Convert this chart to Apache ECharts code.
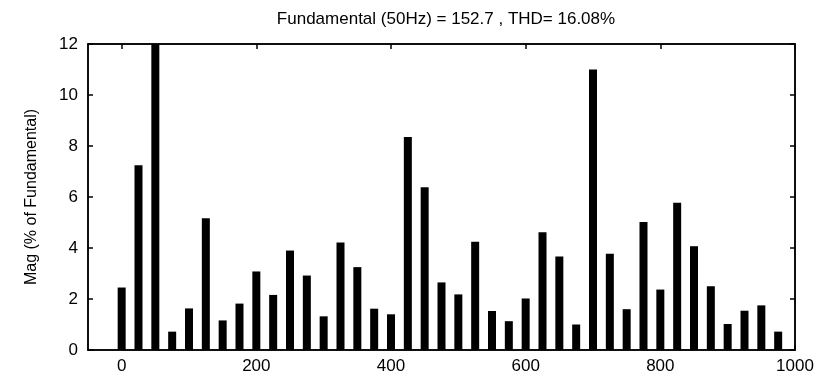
<!DOCTYPE html>
<html>
<head>
<meta charset="utf-8">
<script src="https://cdn.jsdelivr.net/npm/echarts@6/dist/echarts.min.js"></script>
<style>
html,body{margin:0;padding:0;background:#fff;}
#c{width:823px;height:379px;}
</style>
</head>
<body>
<div id="c"></div>
<script>
var titleText = 'Fundamental (50Hz) = 152.7 , THD= 16.08%';
var yAxisName = 'Mag (% of Fundamental)';
var frequencies = [0,25,50,75,100,125,150,175,200,225,250,275,300,325,350,375,400,425,450,475,500,525,550,575,600,625,650,675,700,725,750,775,800,825,850,875,900,925,950,975];
var magnitudes = [2.45,7.25,12,0.72,1.63,5.17,1.16,1.82,3.08,2.16,3.9,2.92,1.32,4.22,3.25,1.62,1.4,8.35,6.38,2.65,2.18,4.25,1.53,1.13,2.02,4.62,3.67,1.0,11.0,3.77,1.6,5.02,2.37,5.77,4.07,2.5,1.02,1.54,1.75,0.72];
var xTicks = [0,200,400,600,800,1000];
var yTicks = [0,2,4,6,8,10,12];

var FONT = '"Liberation Sans Narrow", "Liberation Sans", Arial, sans-serif';
var chart = echarts.init(document.getElementById('c'));
var data = frequencies.map(function(f,i){return [f, magnitudes[i]];});
function axisLine(){ return {show:true, onZero:false, lineStyle:{color:'#000', width:1.5}}; }
var tickStyle = {color:'#000',width:1.5};
chart.setOption({
  animation:false,
  backgroundColor:'#fff',
  title:{text:titleText, left:441, top:6, textAlign:'center',
    textStyle:{fontFamily:FONT, fontSize:17, fontWeight:'normal', color:'#000'}},
  grid:{left:88, right:28, top:44, bottom:29, show:true, borderColor:'#000', borderWidth:1.5},
  xAxis:[{type:'value', min:-50, max:1000,
    axisLine:axisLine(),
    axisTick:{show:true, inside:true, length:5, lineStyle:tickStyle, customValues:xTicks},
    axisLabel:{customValues:xTicks, color:'#000', fontFamily:FONT, fontSize:17, margin:8,
      formatter:function(v){return String(v);}},
    splitLine:{show:false}},
    {type:'value', position:'top', min:-50, max:1000,
    axisLine:axisLine(),
    axisTick:{show:true, inside:true, length:5, lineStyle:tickStyle, customValues:xTicks},
    axisLabel:{show:false}, splitLine:{show:false}}],
  yAxis:[{type:'value', min:0, max:12, interval:2,
    name:yAxisName, nameLocation:'middle', nameGap:48, nameRotate:90,
    nameTextStyle:{fontFamily:FONT, fontSize:16, color:'#000'},
    axisLine:axisLine(),
    axisTick:{show:true, inside:true, length:5, lineStyle:tickStyle, customValues:yTicks},
    axisLabel:{customValues:yTicks, color:'#000', fontFamily:FONT, fontSize:17, margin:10},
    splitLine:{show:false}},
    {type:'value', position:'right', min:0, max:12, interval:2,
    axisLine:axisLine(),
    axisTick:{show:true, inside:true, length:5, lineStyle:tickStyle, customValues:yTicks},
    axisLabel:{show:false}, splitLine:{show:false}}],
  series:[{type:'bar', data:data, barWidth:8, clip:true,
    itemStyle:{color:'#000'}}]
});
</script>
</body>
</html>
